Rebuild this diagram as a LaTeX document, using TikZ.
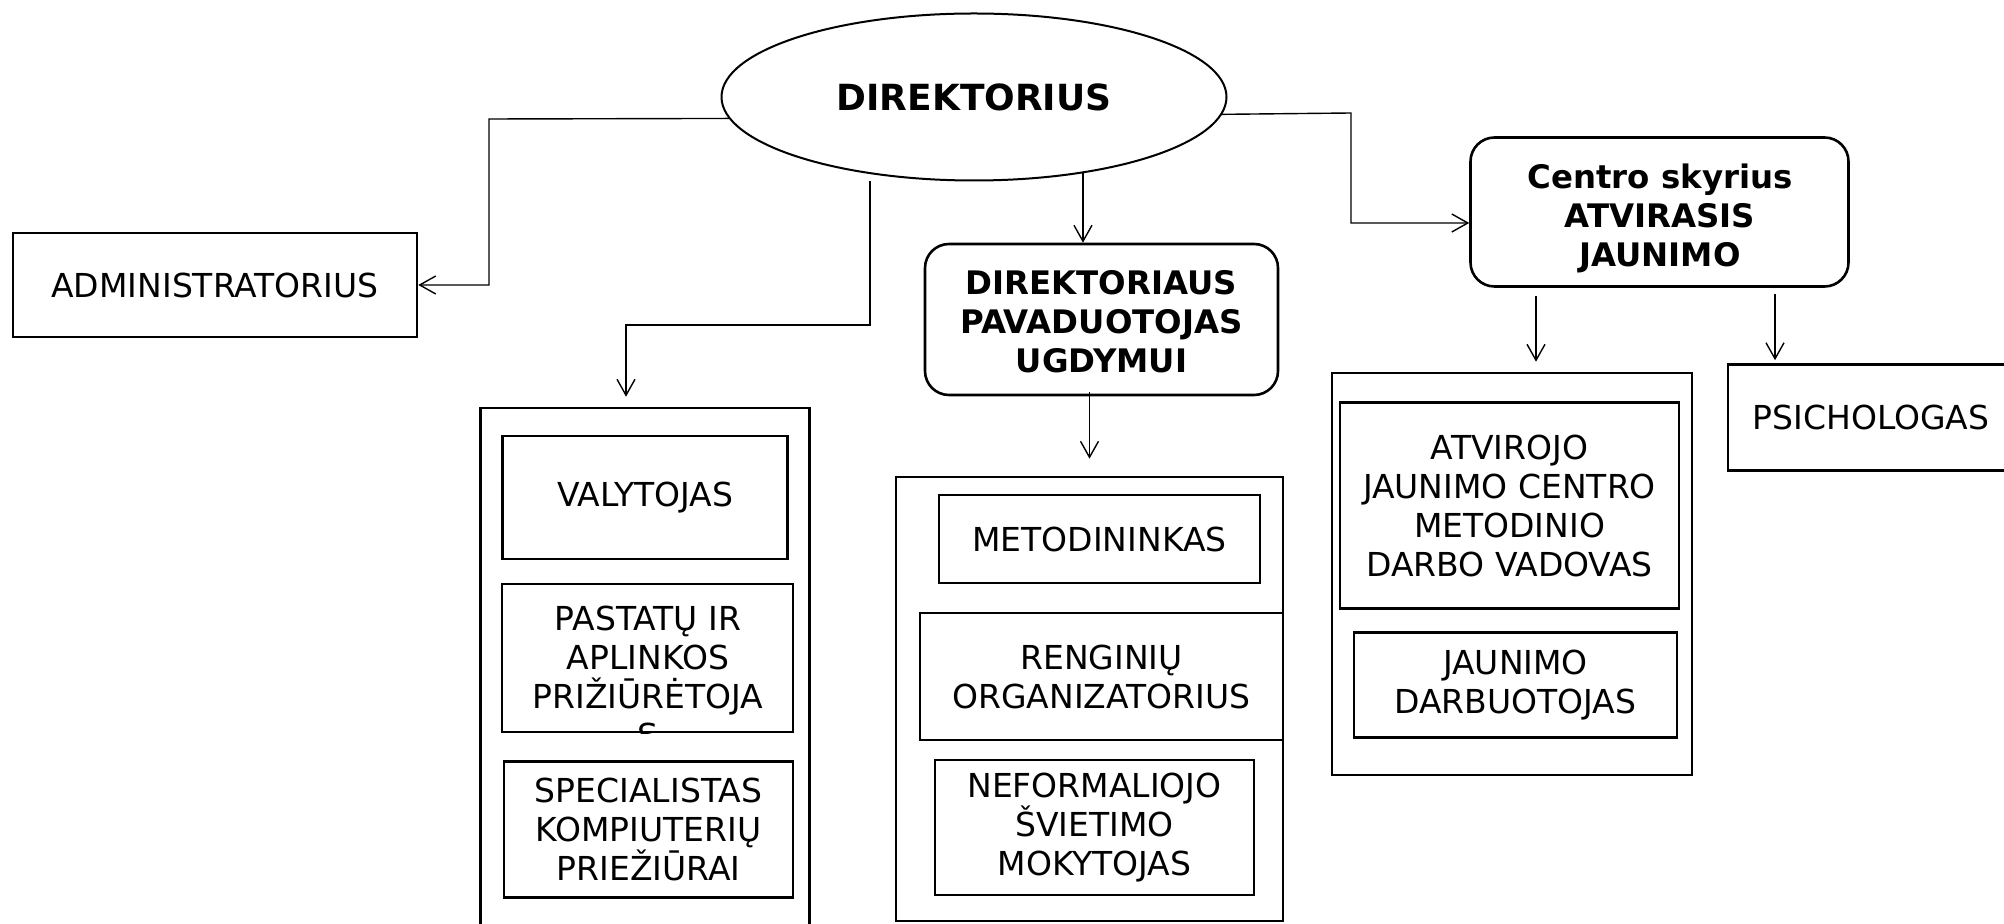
\documentclass[tikz,border=0pt]{standalone}
\usepackage{fontspec}
\setmainfont{DejaVu Sans}
\usetikzlibrary{shapes.geometric,arrows.meta}
\newcommand\regfont{\fontsize{16.5}{19.5}\selectfont}
\newcommand\bldfont{\fontsize{16.2}{19.5}\selectfont\bfseries}
\begin{document}
\begin{tikzpicture}[x=0.5pt,y=-0.5pt,
  box/.style={draw, rectangle, line width=1.3pt, inner sep=0pt, align=center, font=\regfont},
  rbox/.style={box, rounded corners=12pt, font=\bldfont},
  txt/.style={inner sep=0pt, align=center, font=\regfont},
  btxt/.style={txt, font=\bldfont},
  conn/.style={line width=0.7pt},
  arr/.style={conn, -{Straight Barb[length=8pt,width=9pt]}}]
\clip (0,0) rectangle (2004,924);
\fill[white] (0,0) rectangle (2004,924);

% top ellipse
\node[draw, ellipse, line width=1pt, inner sep=0pt, minimum width=252.5pt, minimum height=83.5pt,
      font=\fontsize{18}{21}\selectfont\bfseries] (dir) at (974,97) {DIREKTORIUS};

% left branch
\node[box, minimum width=202pt, minimum height=52pt] (adm) at (215,285) {ADMINISTRATORIUS};

\node[box, minimum width=164.5pt, minimum height=280pt] (lcol) at (645,688) {};
\node[box, minimum width=142.5pt, minimum height=61.5pt] (val) at (645,497.5) {VALYTOJAS};
\node[box, minimum width=145.5pt, minimum height=74pt] (pas) at (647.5,658) {};
\begin{scope}
  \clip (pas.south west) rectangle (pas.north east);
  \node[txt] (pastxt) at (648,677) {PASTATŲ IR\\APLINKOS\\PRIŽIŪRĖTOJA\\S};
\end{scope}
\node[box, minimum width=144.5pt, minimum height=68pt] (spec) at (648.5,829.5) {SPECIALISTAS\\KOMPIUTERIŲ\\PRIEŽIŪRAI};

% middle branch
\node[rbox, minimum width=176.5pt, minimum height=75.5pt] (pav) at (1101.5,319.5) {};
\node[btxt] (pavtxt) at (1101.5,322) {DIREKTORIAUS\\PAVADUOTOJAS\\UGDYMUI};
\node[box, minimum width=193.5pt, minimum height=222pt] (mcol) at (1089.5,699) {};
\node[box, minimum width=160.5pt, minimum height=44pt] (met) at (1099.5,539) {METODININKAS};
\node[box, minimum width=181.5pt, minimum height=63.5pt] (ren) at (1101.5,676.5) {RENGINIŲ\\ORGANIZATORIUS};
\node[box, minimum width=159.5pt, minimum height=67.5pt] (nef) at (1094.5,827.5) {NEFORMALIOJO\\ŠVIETIMO\\MOKYTOJAS};

% right branch
\node[rbox, minimum width=189pt, minimum height=74.5pt] (cen) at (1659.5,212) {};
\node[btxt] (centxt) at (1660,218) {Centro skyrius\\ATVIRASIS\\JAUNIMO};
\node[box, minimum width=180pt, minimum height=201pt] (rcol) at (1512,574) {};
\node[box, minimum width=169.5pt, minimum height=103pt] (atv) at (1509.5,505.5) {ATVIROJO\\JAUNIMO CENTRO\\METODINIO\\DARBO VADOVAS};
\node[box, minimum width=161.5pt, minimum height=52.5pt] (jau) at (1515.5,685) {JAUNIMO\\DARBUOTOJAS};
\node[box, minimum width=143pt, minimum height=53pt] (psi) at (1871,417.5) {PSICHOLOGAS};

% connectors
\coordinate (l1) at (489,119);
\draw[arr] (dir.185) -- (l1) |- (adm.east);

\coordinate (b1) at (870,181);
\coordinate (b2) at (870,325);
\coordinate (b3) at (626,325);
\draw[arr, shorten >=5pt] (b1) -- (b2) -- (b3) -- (b3 |- lcol.north);

\draw[arr] (dir.325.4) -- (dir.325.4 |- pav.north);
\draw[arr, shorten <=-2pt, shorten >=8.5pt] (pav.south -| mcol.north) -- (mcol.north);

\coordinate (r1) at (1351,113);
\coordinate (r2) at (1351,223);
\draw[arr] (dir.356.5) -- (r1) -- (r2) -- (r2 -| cen.west);

\coordinate (c1) at (1536,290);
\coordinate (c2) at (1775,290);
\draw[arr, shorten <=4pt, shorten >=5pt] (c1 |- cen.south) -- (c1 |- rcol.north);
\draw[arr, shorten <=3pt, shorten >=1.5pt] (c2 |- cen.south) -- (c2 |- psi.north);
\end{tikzpicture}
\end{document}
